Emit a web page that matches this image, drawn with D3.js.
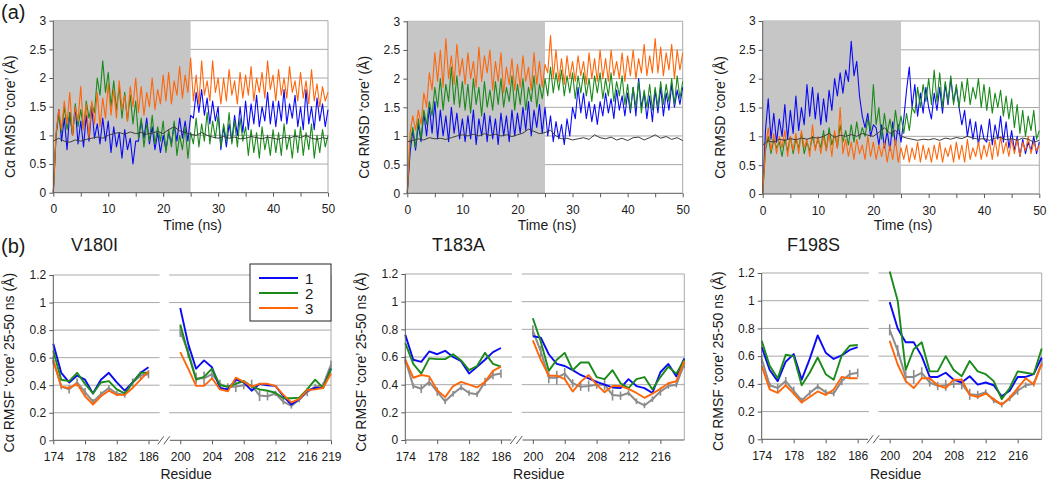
<!DOCTYPE html>
<html><head><meta charset="utf-8">
<script src="https://cdn.jsdelivr.net/npm/d3@7"></script>
<style>body{margin:0;background:#fff}svg{display:block;font-family:"Liberation Sans",Arial,sans-serif}</style>
</head><body><svg id="c" width="1050" height="482"></svg>
<script>
// ---------- Panel (a): Cα RMSD 'core' vs time (0.5 ns samples) ----------
const timeStep = 0.5;
const timeStepAvg = 1;
const xTicksA = [0,5,10,15,20,25,30,35,40,45,50];
const yTicksA = [0,0.5,1,1.5,2,2.5,3];
const shadeRange = [0,25];

const v180iRun1 = [0,
1.0,1.45,0.9,1.3,0.75,1.4,1.0,1.5,0.85,1.25,
0.8,1.35,0.9,1.5,0.95,1.2,0.85,1.3,0.9,1.25,
0.7,1.15,0.8,1.05,0.6,1.1,0.75,0.95,0.5,0.9,
0.9,1.25,0.95,1.3,0.85,1.15,0.75,1.05,0.7,1.0,
0.75,1.05,0.85,1.2,0.9,1.3,0.95,1.25,0.9,1.35,
1.3,1.75,1.4,1.8,1.35,1.65,1.2,1.6,1.25,1.5,
0.75,1.15,0.8,1.2,0.9,1.35,1.0,1.5,1.05,1.6,
1.1,1.55,1.2,1.7,1.15,1.5,1.25,1.75,1.2,1.6,
1.15,1.6,1.25,1.8,1.2,1.55,1.3,1.7,1.15,1.5,
1.1,1.8,1.2,1.5,1.1,1.65,1.25,1.55,1.15,1.45];
const v180iRun2 = [0,
1.0,1.35,1.05,1.5,1.1,1.4,1.0,1.55,1.15,1.45,
1.1,1.6,1.3,1.55,1.4,2.0,1.7,2.3,1.75,2.1,
1.5,1.95,1.45,1.85,1.3,1.75,1.25,1.7,1.2,1.6,
0.95,1.3,0.8,1.2,0.9,1.35,0.85,1.15,0.9,1.25,
0.7,1.1,0.8,1.25,0.65,1.0,0.75,1.15,0.6,1.05,
0.85,1.3,0.8,1.2,0.9,1.4,0.85,1.25,0.95,1.35,
0.8,1.2,0.9,1.4,0.85,1.25,0.8,1.3,0.9,1.15,
0.65,1.1,0.7,1.05,0.6,1.15,0.75,1.0,0.65,1.1,
0.7,1.05,0.65,1.2,0.75,1.0,0.6,1.1,0.7,1.15,
0.65,1.05,0.75,1.2,0.6,1.0,0.7,1.1,0.8,1.0];
const v180iRun3 = [0,
1.05,1.45,1.1,1.6,1.2,1.75,1.0,1.5,1.25,1.85,
1.1,1.55,0.95,1.6,1.2,1.75,1.15,1.65,1.3,1.9,
1.35,1.8,1.3,1.95,1.45,1.7,1.25,1.85,1.5,2.0,
1.4,1.85,1.35,1.75,1.5,2.0,1.45,1.8,1.55,2.05,
1.6,2.1,1.55,1.95,1.7,2.2,1.65,2.05,1.75,2.35,
1.6,2.05,1.55,2.3,1.7,1.95,1.6,2.3,1.75,2.0,
1.55,2.0,1.6,2.15,1.7,1.95,1.55,2.1,1.65,2.05,
1.7,2.2,1.6,2.0,1.75,2.1,1.65,2.3,1.8,2.05,
1.6,2.15,1.7,2.0,1.65,2.2,1.75,1.95,1.6,2.1,
1.65,1.95,1.55,2.15,1.6,1.9,1.5,1.85,1.6,1.75];
const v180iWT = [0.9,0.95,0.9,0.88,0.92,0.9,0.93,0.95,0.97,0.95,1.0,1.03,1.05,1.02,1.06,1.03,1.05,1.02,1.04,1.07,1.03,1.1,1.15,1.08,1.05,1.02,1.0,1.05,1.0,0.97,0.95,0.98,0.95,0.97,0.94,0.95,0.98,0.96,0.94,0.97,0.95,0.93,0.97,0.95,0.99,0.96,1.0,0.95,0.93,0.96,0.94];

const t183aRun1 = [0,
0.7,1.1,0.75,1.2,0.9,1.4,1.0,1.5,1.05,1.6,
0.95,1.45,1.0,1.35,0.9,1.5,1.05,1.4,0.95,1.3,
0.9,1.35,0.95,1.45,0.85,1.3,1.0,1.4,0.9,1.35,
0.95,1.3,0.85,1.4,1.0,1.35,0.9,1.45,1.0,1.4,
1.05,1.5,1.1,1.6,1.0,1.45,1.15,1.55,1.05,1.5,
1.0,1.35,0.9,1.25,0.95,1.2,0.85,1.3,1.0,1.5,
1.3,1.85,1.4,1.75,1.3,1.6,1.25,1.55,1.2,1.6,
1.35,1.75,1.4,1.65,1.3,1.8,1.45,1.7,1.35,1.75,
1.4,1.85,1.35,2.0,1.5,1.75,1.3,1.7,1.25,1.8,
1.4,1.85,1.35,1.75,1.45,1.9,1.5,1.8,1.55,1.85];
const t183aRun2 = [0,
0.85,1.15,0.8,1.3,0.95,1.45,1.2,1.6,1.35,1.85,
1.5,2.0,1.45,1.9,1.6,2.2,1.55,2.05,1.5,1.95,
1.45,1.9,1.4,2.0,1.55,1.85,1.35,1.95,1.5,1.8,
1.45,1.95,1.55,2.0,1.5,1.85,1.6,2.05,1.45,1.9,
1.55,2.0,1.45,1.85,1.6,2.05,1.5,1.9,1.65,2.0,
1.7,2.2,1.75,2.1,1.8,2.15,1.7,2.05,1.75,2.1,
1.65,2.05,1.75,2.1,1.7,2.0,1.6,2.05,1.75,2.1,
1.65,2.0,1.7,2.1,1.6,1.95,1.7,2.05,1.55,1.9,
1.45,1.85,1.5,1.95,1.4,1.8,1.5,1.9,1.45,1.85,
1.5,1.95,1.55,1.9,1.6,2.0,1.55,2.05,1.65,1.95];
const t183aRun3 = [0,
1.05,1.35,1.1,1.45,1.2,1.75,1.5,2.1,1.8,2.45,
1.95,2.5,1.85,2.7,2.0,2.4,1.9,2.6,2.05,2.35,
1.9,2.45,2.0,2.3,1.85,2.55,1.95,2.4,2.1,2.5,
1.8,2.3,1.95,2.45,1.75,2.2,1.9,2.35,1.8,2.25,
1.85,2.4,1.95,2.2,1.8,2.45,1.9,2.3,1.85,2.25,
2.1,2.75,2.0,2.5,1.95,2.35,1.9,2.4,2.0,2.3,
1.95,2.4,2.05,2.3,1.9,2.45,2.0,2.35,1.95,2.5,
2.0,2.35,1.95,2.5,2.05,2.3,2.0,2.45,1.95,2.4,
2.05,2.5,2.0,2.35,2.1,2.6,2.05,2.4,2.1,2.7,
2.1,2.55,2.05,2.45,2.15,2.6,2.0,2.5,2.15,2.45];
const t183aWT = [0.9,0.92,0.95,0.93,0.97,0.95,0.96,0.94,0.97,1.0,1.02,1.0,1.03,1.0,1.04,1.01,1.03,1.0,1.02,0.99,1.02,1.05,1.12,1.08,1.04,1.06,1.1,1.0,0.95,0.96,0.93,0.95,0.97,0.94,1.02,0.97,0.95,0.98,0.93,0.96,0.92,0.97,0.98,0.93,0.97,1.02,0.96,0.99,0.94,0.97,0.92];

const f198sRun1 = [0,
1.1,1.65,0.95,1.4,0.9,1.3,1.0,1.55,0.95,1.45,
1.05,1.7,1.1,1.5,1.2,1.9,1.35,1.85,1.3,1.75,
1.2,1.65,1.25,1.8,1.45,2.0,1.7,2.1,1.75,2.15,
1.95,2.65,2.05,2.3,1.7,1.35,1.15,1.4,1.0,1.2,
1.15,0.85,1.2,0.8,1.1,0.75,1.25,0.85,1.2,0.9,
1.3,1.8,2.2,1.5,1.9,1.35,1.75,1.4,1.85,1.5,
1.3,1.75,1.45,1.85,1.4,1.9,1.55,2.0,1.6,1.85,
1.5,1.2,1.45,1.0,1.3,0.95,1.25,0.85,1.2,0.95,
0.9,1.3,0.85,1.2,0.95,1.35,0.9,1.25,0.8,1.1,
0.75,1.0,0.65,0.95,0.7,0.9,0.75,1.0,0.7,0.9];
const f198sRun2 = [0,
0.75,1.0,0.7,0.95,0.8,0.9,0.65,0.95,0.75,1.0,
0.7,0.95,0.8,1.05,0.7,0.9,0.75,1.0,0.8,0.95,
0.8,1.1,0.75,1.15,0.85,1.05,0.8,1.2,0.9,1.1,
0.85,1.2,0.9,1.25,0.95,1.15,1.0,1.3,1.1,1.9,
1.2,1.5,0.95,1.4,1.05,1.3,1.0,1.45,1.1,1.35,
1.05,1.4,1.1,1.5,1.4,1.85,1.5,1.9,1.6,2.0,
1.55,2.15,1.6,2.1,1.5,1.95,1.6,2.05,1.55,1.9,
1.5,1.95,1.6,2.0,1.55,1.85,1.65,2.0,1.5,1.9,
1.45,1.85,1.4,1.75,1.5,1.8,1.35,1.7,1.3,1.65,
1.15,1.55,1.05,1.45,1.0,1.35,1.1,1.45,0.95,1.1];
const f198sRun3 = [0,
0.8,1.15,0.75,1.05,0.7,1.0,0.8,1.1,0.65,1.0,
0.75,1.05,0.7,1.1,0.8,0.95,0.65,1.2,0.75,1.0,
0.7,1.0,0.75,1.05,0.65,1.1,0.8,1.5,0.7,0.95,
0.65,0.9,0.6,0.95,0.7,0.85,0.6,1.0,0.65,0.9,
0.6,0.85,0.65,0.9,0.55,0.85,0.6,0.95,0.55,0.8,
0.6,0.85,0.55,0.8,0.6,0.9,0.55,0.85,0.6,0.8,
0.55,0.85,0.6,0.9,0.55,0.8,0.65,0.85,0.55,0.9,
0.6,0.85,0.55,0.95,0.6,0.8,0.65,0.9,0.6,0.85,
0.65,0.9,0.6,0.95,0.65,1.0,0.7,0.9,0.65,0.95,
0.7,0.95,0.65,0.9,0.75,1.0,0.7,0.9,0.75,0.85];
const f198sWT = [0.85,0.92,0.9,0.95,0.93,0.96,0.94,0.97,0.95,0.98,0.97,1.0,1.05,0.98,1.02,1.0,1.03,1.0,1.05,1.02,1.0,1.07,1.15,1.05,1.1,1.0,0.97,0.95,0.93,0.95,0.94,0.96,0.93,0.97,0.95,0.98,0.96,1.0,0.97,0.95,0.96,0.93,0.97,0.98,0.94,0.96,0.93,0.97,0.95,0.9,0.93];

// ---------- Panel (b): Cα RMSF 'core' 25-50 ns per residue ----------
const residues = [174,175,176,177,178,179,180,181,182,183,184,185,186,
  200,201,202,203,204,205,206,207,208,209,210,211,212,213,214,215,216,217,218,219];
const yTicksB = [0,0.2,0.4,0.6,0.8,1,1.2];
const xLabelsB1 = [174,178,182,186,200,204,208,212,216,219];
const xLabelsB23 = [174,178,182,186,200,204,208,212,216];

const wtRmsf = [0.58,0.39,0.37,0.42,0.35,0.28,0.335,0.38,0.34,0.33,0.42,0.47,0.48,
  0.79,0.64,0.45,0.45,0.48,0.41,0.385,0.39,0.40,0.40,0.325,0.32,0.34,0.28,0.25,0.295,0.35,0.39,0.40,0.55];
const wtRmsfErr = [0.03,0.02,0.03,0.03,0.03,0.02,0.02,0.02,0.02,0.02,0.03,0.03,0.03,
  0.04,0.04,0.04,0.05,0.04,0.03,0.03,0.04,0.03,0.04,0.04,0.03,0.02,0.02,0.02,0.02,0.03,0.02,0.02,0.03];

const v180iRmsf1 = [0.70,0.49,0.42,0.47,0.44,0.34,0.44,0.49,0.42,0.36,0.42,0.49,0.53,
  0.96,0.70,0.52,0.58,0.53,0.38,0.37,0.44,0.42,0.36,0.41,0.40,0.395,0.32,0.26,0.30,0.36,0.38,0.38,0.52];
const v180iRmsf2 = [0.65,0.44,0.43,0.49,0.41,0.34,0.42,0.43,0.37,0.34,0.42,0.49,0.49,
  0.84,0.63,0.44,0.46,0.52,0.40,0.39,0.41,0.43,0.39,0.37,0.36,0.345,0.305,0.305,0.31,0.37,0.44,0.38,0.52];
const v180iRmsf3 = [0.58,0.39,0.38,0.41,0.32,0.26,0.32,0.36,0.33,0.33,0.38,0.44,0.50,
  0.64,0.52,0.395,0.395,0.45,0.37,0.355,0.455,0.425,0.39,0.41,0.41,0.395,0.33,0.275,0.30,0.365,0.37,0.38,0.485];

const t183aRmsf1 = [0.76,0.58,0.565,0.64,0.62,0.645,0.60,0.57,0.48,0.53,0.58,0.635,0.665,
  0.75,0.74,0.62,0.55,0.535,0.505,0.47,0.445,0.42,0.40,0.38,0.375,0.44,0.39,0.375,0.34,0.49,0.55,0.46,0.59];
const t183aRmsf2 = [0.70,0.55,0.48,0.59,0.585,0.585,0.62,0.575,0.505,0.535,0.63,0.55,0.53,
  0.88,0.71,0.50,0.58,0.63,0.505,0.56,0.56,0.455,0.44,0.505,0.41,0.375,0.44,0.455,0.365,0.455,0.53,0.48,0.58];
const t183aRmsf3 = [0.58,0.45,0.47,0.46,0.36,0.31,0.39,0.42,0.40,0.38,0.42,0.50,0.53,
  0.72,0.58,0.465,0.465,0.44,0.35,0.42,0.47,0.40,0.345,0.39,0.39,0.37,0.34,0.305,0.335,0.37,0.41,0.425,0.57];

const f198sRmsf1 = [0.665,0.50,0.42,0.56,0.615,0.43,0.58,0.75,0.625,0.58,0.605,0.645,0.665,
  0.99,0.80,0.70,0.70,0.60,0.45,0.45,0.48,0.43,0.41,0.455,0.395,0.41,0.39,0.31,0.35,0.45,0.45,0.47,0.59];
const f198sRmsf2 = [0.71,0.53,0.44,0.61,0.60,0.39,0.48,0.59,0.47,0.43,0.605,0.675,0.68,
  1.21,1.0,0.50,0.65,0.70,0.49,0.49,0.60,0.50,0.455,0.565,0.49,0.47,0.42,0.29,0.37,0.49,0.48,0.47,0.655];
const f198sRmsf3 = [0.53,0.36,0.335,0.39,0.33,0.265,0.305,0.345,0.32,0.36,0.45,0.44,0.44,
  0.71,0.54,0.42,0.37,0.44,0.44,0.39,0.37,0.43,0.43,0.32,0.305,0.33,0.29,0.25,0.30,0.37,0.44,0.395,0.545];

const legendLabels = ["1","2","3"];

// ---------- drawing ----------
const svg = d3.select("#c");
const COL = {blue:"#0a0af5", green:"#1a8a1a", orange:"#ff660a", avg:"#3c3c3c", wt:"#8c8c8c"};
const AXIS = "#5a5a5a", GRID = "#a9a9a9", TXT = "#1a1a1a";

function styleAxis(sel){
  sel.select(".domain").remove();
  sel.selectAll(".tick line").attr("stroke", AXIS);
  sel.selectAll(".tick text").attr("fill", TXT).attr("font-size", 12)
     .attr("font-family", '"Liberation Sans",Arial,sans-serif');
}

function panelA(c){
  const x = d3.scaleLinear().domain([0,50]).range([c.x0,c.x1]);
  const y = d3.scaleLinear().domain([0,3]).range([c.yb,c.yt]);
  const g = svg.append("g");
  g.selectAll("line.grid").data(yTicksA.slice(1)).join("line")
    .attr("x1",x(0)).attr("x2",x(50)).attr("y1",d=>y(d)).attr("y2",d=>y(d))
    .attr("stroke",GRID).attr("stroke-width",1);
  g.append("rect").attr("x",x(shadeRange[0])).attr("width",x(shadeRange[1])-x(shadeRange[0]))
    .attr("y",y(3)).attr("height",y(0)-y(3)).attr("fill","#c6c6c6");
  g.append("line").attr("x1",x(50)).attr("x2",x(50)).attr("y1",y(0)).attr("y2",y(3))
    .attr("stroke",GRID);
  const lineN = d3.line().x((d,i)=>x(i*timeStep)).y(d=>y(d));
  const lineK = d3.line().x((d,i)=>x(i*timeStepAvg)).y(d=>y(d)).curve(d3.curveLinear);
  [[c.r1,COL.blue],[c.r2,COL.green],[c.r3,COL.orange]].forEach(([arr,col])=>{
    g.append("path").attr("d",lineN(arr)).attr("fill","none").attr("stroke",col)
      .attr("stroke-width",1.1).attr("stroke-linejoin","round");
  });
  g.append("path").attr("d",lineK(c.wt)).attr("fill","none").attr("stroke",COL.avg).attr("stroke-width",1);
  // axes
  const ay = g.append("g").attr("transform",`translate(${x(0)},0)`)
    .call(d3.axisLeft(y).tickValues(yTicksA).tickFormat(d=>String(d)).tickSize(4).tickPadding(3));
  styleAxis(ay);
  g.append("line").attr("x1",x(0)).attr("x2",x(0)).attr("y1",y(0)).attr("y2",y(3)).attr("stroke",AXIS);
  const ax = g.append("g").attr("transform",`translate(0,${y(0)})`)
    .call(d3.axisBottom(x).tickValues(xTicksA).tickFormat(d=>d%10===0?String(d):"").tickSize(4).tickPadding(8));
  styleAxis(ax);
  g.append("line").attr("x1",x(0)).attr("x2",x(50)).attr("y1",y(0)).attr("y2",y(0)).attr("stroke",AXIS);
  g.append("text").attr("x",(x(0)+x(50))/2+2).attr("y",230).attr("text-anchor","middle")
    .attr("font-size",14).attr("fill",TXT).text("Time (ns)");
  g.append("text").attr("transform",`translate(${x(0)-38},${(y(0)+y(3))/2+10}) rotate(-90)`)
    .attr("text-anchor","middle").attr("font-size",14).attr("fill",TXT).text("Cα RMSD ‘core’ (Å)");
}

function resIndex(r){ return r<=186 ? r-174 : r-184; }

function panelB(c){
  const x = d3.scaleLinear().domain([0,35]).range([c.x0,c.x1]);
  const y = d3.scaleLinear().domain([0,1.2]).range([c.yb,c.yt]);
  const g = svg.append("g");
  const segs = [[x(0),x(13.4)],[x(14.6),x(35)]];
  segs.forEach(s=>{
    g.selectAll(null).data(yTicksB.slice(1)).join("line")
      .attr("x1",s[0]).attr("x2",s[1]).attr("y1",d=>y(d)).attr("y2",d=>y(d))
      .attr("stroke",GRID);
  });
  g.append("line").attr("x1",x(35)).attr("x2",x(35)).attr("y1",y(0)).attr("y2",y(1.2)).attr("stroke",GRID);
  const pts = arr => arr.map((v,i)=>({i:resIndex(residues[i]), r:residues[i], v}));
  const line = d3.line().defined((d,k,all)=>true).x(d=>x(d.i)).y(d=>y(d.v));
  function drawSeries(arr,col,w){
    const p = pts(arr);
    [p.filter(d=>d.r<=186), p.filter(d=>d.r>=200)].forEach(seg=>{
      g.append("path").attr("d",line(seg)).attr("fill","none").attr("stroke",col)
        .attr("stroke-width",w).attr("stroke-linejoin","round");
    });
  }
  // WT reference with error bars
  const pw = pts(wtRmsf);
  g.selectAll(null).data(pw).join("line")
    .attr("x1",d=>x(d.i)).attr("x2",d=>x(d.i))
    .attr("y1",(d,k)=>y(d.v-wtRmsfErr[k])).attr("y2",(d,k)=>y(d.v+wtRmsfErr[k]))
    .attr("stroke",COL.wt).attr("stroke-width",1.6);
  drawSeries(wtRmsf,COL.wt,2);
  drawSeries(c.r1,COL.blue,1.9);
  drawSeries(c.r2,COL.green,1.9);
  drawSeries(c.r3,COL.orange,1.9);
  // axes
  const ay = g.append("g").attr("transform",`translate(${x(0)},0)`)
    .call(d3.axisLeft(y).tickValues(yTicksB).tickFormat(d=>String(d)).tickSize(4).tickPadding(3));
  styleAxis(ay);
  g.append("line").attr("x1",x(0)).attr("x2",x(0)).attr("y1",y(0)).attr("y2",y(1.2)).attr("stroke",AXIS);
  const ax = g.append("g").attr("transform",`translate(0,${y(0)})`)
    .call(d3.axisBottom(x).tickValues(c.labels.map(resIndex))
      .tickFormat(i=>String(i<=12 ? i+174 : i+184)).tickSize(4).tickPadding(8));
  styleAxis(ax);
  g.append("line").attr("x1",x(0)).attr("x2",x(13.3)).attr("y1",y(0)).attr("y2",y(0)).attr("stroke",AXIS);
  g.append("line").attr("x1",x(14.7)).attr("x2",x(35)).attr("y1",y(0)).attr("y2",y(0)).attr("stroke",AXIS);
  // break marks
  [13.55,14.3].forEach(v=>{
    g.append("line").attr("x1",x(v)-3).attr("x2",x(v)+3).attr("y1",y(0)+4).attr("y2",y(0)-4)
      .attr("stroke",AXIS).attr("stroke-width",1);
  });
  g.append("text").attr("x",(x(0)+x(35))/2-6).attr("y",479).attr("text-anchor","middle")
    .attr("font-size",14).attr("fill",TXT).text("Residue");
  g.append("text").attr("transform",`translate(${x(0)-39},${(y(0)+y(1.2))/2+5}) rotate(-90)`)
    .attr("text-anchor","middle").attr("font-size",14).attr("fill",TXT).text("Cα RMSF ‘core’ 25-50 ns (Å)");
  g.append("text").attr("x",c.tx).attr("y",251).attr("font-size",18).attr("fill",TXT).text(c.title);
  if(c.legend){
    const lg = g.append("g");
    lg.append("rect").attr("x",250).attr("y",264).attr("width",81).attr("height",57)
      .attr("fill","#fff").attr("stroke","#222").attr("stroke-width",1);
    [COL.blue,COL.green,COL.orange].forEach((col,k)=>{
      const yy = 278 + k*15;
      lg.append("line").attr("x1",259).attr("x2",298).attr("y1",yy).attr("y2",yy)
        .attr("stroke",col).attr("stroke-width",2);
      lg.append("text").attr("x",305).attr("y",yy+5.5).attr("font-size",15).attr("fill",TXT).text(legendLabels[k]);
    });
  }
}

panelA({x0:53.3,x1:328,yt:20.7,yb:192.7,r1:v180iRun1,r2:v180iRun2,r3:v180iRun3,wt:v180iWT});
panelA({x0:407.3,x1:682.7,yt:21.3,yb:193.3,r1:t183aRun1,r2:t183aRun2,r3:t183aRun3,wt:t183aWT});
panelA({x0:762.7,x1:1039.3,yt:21,yb:194,r1:f198sRun1,r2:f198sRun2,r3:f198sRun3,wt:f198sWT});

panelB({x0:53.3,x1:331,yt:275,yb:440.3,r1:v180iRmsf1,r2:v180iRmsf2,r3:v180iRmsf3,labels:xLabelsB1,title:"V180I",tx:71,legend:true});
panelB({x0:405.3,x1:684.3,yt:274,yb:440,r1:t183aRmsf1,r2:t183aRmsf2,r3:t183aRmsf3,labels:xLabelsB23,title:"T183A",tx:432});
panelB({x0:761.7,x1:1041.7,yt:273,yb:439.3,r1:f198sRmsf1,r2:f198sRmsf2,r3:f198sRmsf3,labels:xLabelsB23,title:"F198S",tx:787});

svg.append("text").attr("x",1).attr("y",19).attr("font-size",20).attr("fill",TXT).text("(a)");
svg.append("text").attr("x",1).attr("y",253).attr("font-size",20).attr("fill",TXT).text("(b)");
</script></body></html>
